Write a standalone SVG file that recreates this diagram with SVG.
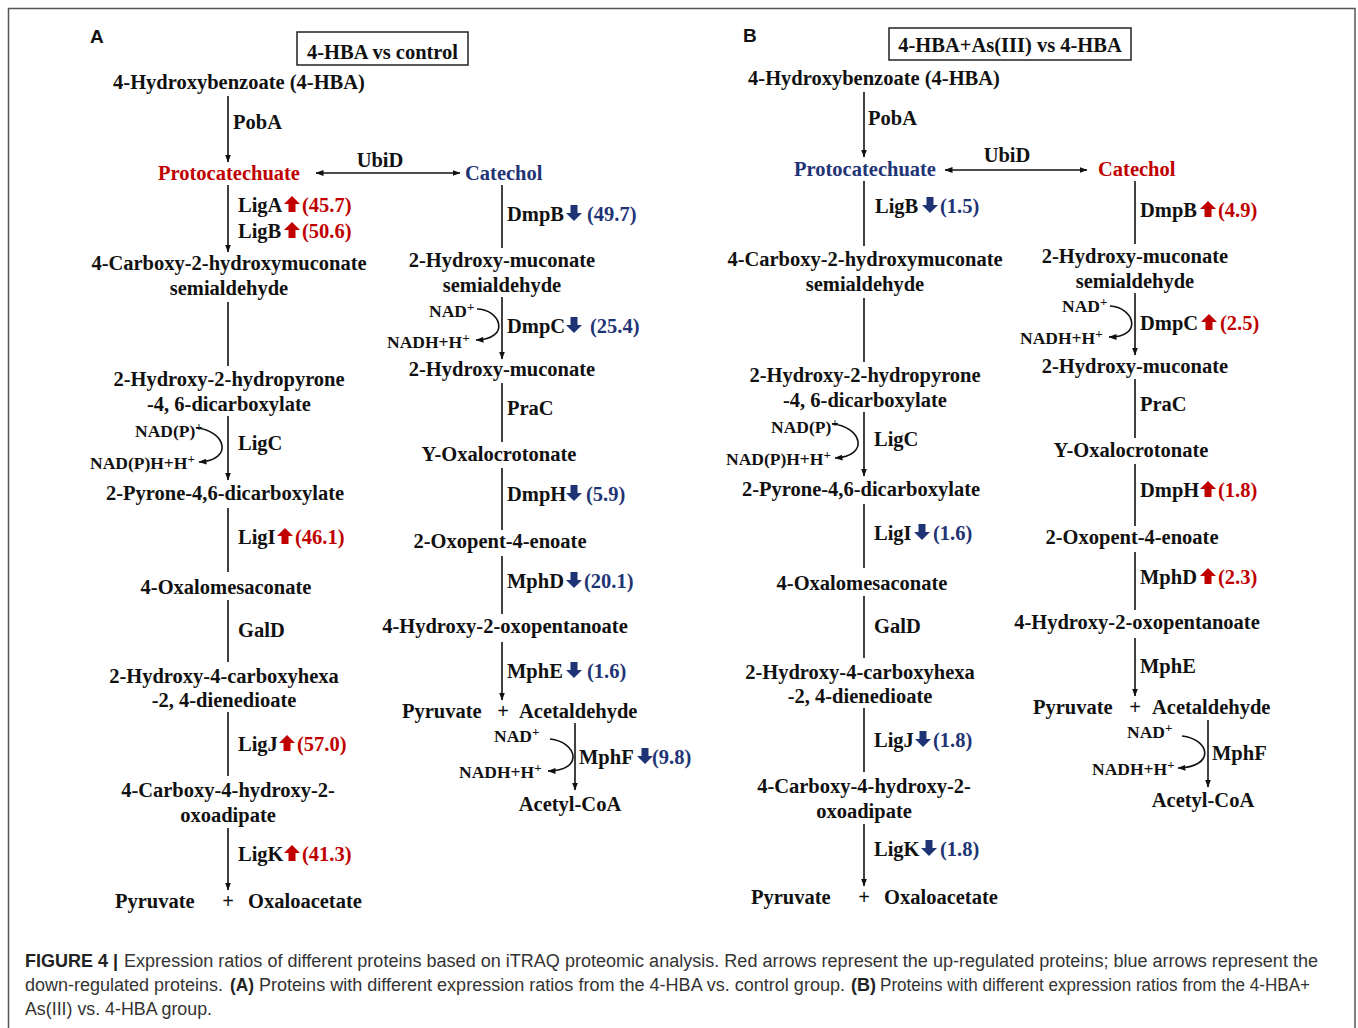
<svg xmlns="http://www.w3.org/2000/svg" xmlns:xlink="http://www.w3.org/1999/xlink" width="1358" height="1028" viewBox="0 0 1358 1028">
<style>
.t{font-family:"Liberation Serif","Times New Roman",serif;font-weight:bold;font-size:20.5px;fill:#111}
.c{text-anchor:middle}
.r{fill:#c00000}
.b{fill:#1f3475}
.co{font-size:17.5px}
.sup{font-size:13px}
.ln{stroke:#111;stroke-width:1.6;fill:none}
.bx{stroke:#222;stroke-width:1.5;fill:none}
.lbl{font-family:"Liberation Sans",Arial,sans-serif;font-weight:bold;font-size:19px;fill:#111}
.cap{font-family:"Liberation Sans",Arial,sans-serif;font-size:18px;fill:#333}
.capb{font-weight:bold;fill:#222}
</style>
<defs>
<marker id="ah" viewBox="0 0 8 6" refX="7.5" refY="3" markerWidth="8" markerHeight="6" markerUnits="userSpaceOnUse" orient="auto-start-reverse"><path d="M0,0L8,3L0,6z" fill="#111"/></marker>
<path id="up" d="M0,-8L8,0L3.5,0L3.5,8L-3.5,8L-3.5,0L-8,0Z"/>
<path id="dn" d="M0,8L8,0L3.5,0L3.5,-8L-3.5,-8L-3.5,0L-8,0Z"/>
</defs>
<rect x="0" y="0" width="1358" height="1028" fill="#fff"/>
<rect x="8.5" y="8.5" width="1346.5" height="1040" fill="none" stroke="#555" stroke-width="1.5"/>

<!-- Panel labels and titles -->
<text class="lbl" x="90" y="43">A</text>
<text class="lbl" x="743" y="42">B</text>
<g id="titleA"><rect class="bx" x="297" y="32" width="171" height="33"/><text class="t c" x="382.5" y="59">4-HBA vs control</text></g>
<g id="titleB"><rect class="bx" x="889" y="28" width="242" height="32"/><text class="t c" x="1010" y="52">4-HBA+As(III) vs 4-HBA</text></g>

<!-- ============ Connectors ============ -->
<g id="connectors" class="ln">
<!-- A main -->
<line x1="228" y1="96" x2="228" y2="162" marker-end="url(#ah)"/>
<line x1="316" y1="173" x2="460" y2="173" marker-start="url(#ah)" marker-end="url(#ah)"/>
<line x1="228" y1="185" x2="228" y2="252" marker-end="url(#ah)"/>
<line x1="228" y1="302" x2="228" y2="366"/>
<line x1="228" y1="416" x2="228" y2="480" marker-end="url(#ah)"/>
<line x1="228" y1="508" x2="228" y2="572"/>
<line x1="228" y1="600" x2="228" y2="662"/>
<line x1="228" y1="712" x2="228" y2="776"/>
<line x1="228" y1="828" x2="228" y2="890" marker-end="url(#ah)"/>
<path d="M196,428 C225,430 235,460 199,462" marker-end="url(#ah)"/>
<!-- A catechol -->
<line x1="502" y1="185" x2="502" y2="248"/>
<line x1="502" y1="297" x2="502" y2="359" marker-end="url(#ah)"/>
<path d="M477,309 C500,309 512,339 476,340" marker-end="url(#ah)"/>
<line x1="502" y1="383" x2="502" y2="442"/>
<line x1="502" y1="468" x2="502" y2="530"/>
<line x1="502" y1="556" x2="502" y2="614"/>
<line x1="502" y1="642" x2="502" y2="700" marker-end="url(#ah)"/>
<line x1="575" y1="723" x2="575" y2="790" marker-end="url(#ah)"/>
<path d="M550,739 C578,742 584,771 548,771" marker-end="url(#ah)"/>
<!-- B main -->
<line x1="864" y1="92" x2="864" y2="157" marker-end="url(#ah)"/>
<line x1="945" y1="170" x2="1087" y2="170" marker-start="url(#ah)" marker-end="url(#ah)"/>
<line x1="864" y1="181" x2="864" y2="246"/>
<line x1="864" y1="298" x2="864" y2="362"/>
<line x1="864" y1="412" x2="864" y2="476" marker-end="url(#ah)"/>
<line x1="864" y1="504" x2="864" y2="568"/>
<line x1="864" y1="596" x2="864" y2="658"/>
<line x1="864" y1="708" x2="864" y2="772"/>
<line x1="864" y1="824" x2="864" y2="886" marker-end="url(#ah)"/>
<path d="M832,424 C861,426 871,456 835,458" marker-end="url(#ah)"/>
<!-- B catechol -->
<line x1="1135" y1="181" x2="1135" y2="244"/>
<line x1="1135" y1="293" x2="1135" y2="355" marker-end="url(#ah)"/>
<path d="M1110,306 C1134,307 1144,337 1109,337" marker-end="url(#ah)"/>
<line x1="1135" y1="379" x2="1135" y2="438"/>
<line x1="1135" y1="464" x2="1135" y2="526"/>
<line x1="1135" y1="552" x2="1135" y2="610"/>
<line x1="1135" y1="638" x2="1135" y2="696" marker-end="url(#ah)"/>
<line x1="1208" y1="720" x2="1208" y2="787" marker-end="url(#ah)"/>
<path d="M1182,736 C1210,739 1216,767 1178,768" marker-end="url(#ah)"/>
</g>

<!-- ============ Panel A nodes ============ -->
<g id="A-hba"><text class="t c" x="239" y="89">4-Hydroxybenzoate (4-HBA)</text></g>
<g id="A-pobA"><text class="t" x="233" y="129">PobA</text></g>
<g id="A-proto"><text class="t c r" x="229" y="180">Protocatechuate</text></g>
<g id="A-ubiD"><text class="t c" x="380" y="167">UbiD</text></g>
<g id="A-catechol"><text class="t b" x="465" y="180">Catechol</text></g>
<g id="A-ligA"><text class="t" x="238" y="212">LigA</text><use href="#up" x="292" y="204" class="r"/><text class="t r" x="302" y="212">(45.7)</text></g>
<g id="A-ligB"><text class="t" x="238" y="238">LigB</text><use href="#up" x="292" y="230" class="r"/><text class="t r" x="302" y="238">(50.6)</text></g>
<g id="A-chms"><text class="t c" x="229" y="270">4-Carboxy-2-hydroxymuconate</text><text class="t c" x="229" y="295">semialdehyde</text></g>
<g id="A-hhpd"><text class="t c" x="229" y="386">2-Hydroxy-2-hydropyrone</text><text class="t c" x="229" y="411">-4, 6-dicarboxylate</text></g>
<g id="A-ligC"><text class="t" x="238" y="450">LigC</text>
<text class="t co" x="135" y="437">NAD(P)<tspan class="sup" dy="-6">+</tspan></text>
<text class="t co" x="90" y="469">NAD(P)H+H<tspan class="sup" dy="-6">+</tspan></text></g>
<g id="A-pdc"><text class="t c" x="225" y="500">2-Pyrone-4,6-dicarboxylate</text></g>
<g id="A-ligI"><text class="t" x="238" y="544">LigI</text><use href="#up" x="285" y="536" class="r"/><text class="t r" x="295" y="544">(46.1)</text></g>
<g id="A-oma"><text class="t c" x="226" y="594">4-Oxalomesaconate</text></g>
<g id="A-galD"><text class="t" x="238" y="637">GalD</text></g>
<g id="A-chmd"><text class="t c" x="224" y="683">2-Hydroxy-4-carboxyhexa</text><text class="t c" x="224" y="707">-2, 4-dienedioate</text></g>
<g id="A-ligJ"><text class="t" x="238" y="751">LigJ</text><use href="#up" x="287" y="743" class="r"/><text class="t r" x="297" y="751">(57.0)</text></g>
<g id="A-cha"><text class="t c" x="228" y="797">4-Carboxy-4-hydroxy-2-</text><text class="t c" x="228" y="822">oxoadipate</text></g>
<g id="A-ligK"><text class="t" x="238" y="861">LigK</text><use href="#up" x="292" y="853" class="r"/><text class="t r" x="302" y="861">(41.3)</text></g>
<g id="A-end"><text class="t" x="115" y="908">Pyruvate</text><text class="t c" x="228" y="908">+</text><text class="t" x="248" y="908">Oxaloacetate</text></g>

<g id="A-dmpB"><text class="t" x="507" y="221">DmpB</text><use href="#dn" x="574" y="213" class="b"/><text class="t b" x="587" y="221">(49.7)</text></g>
<g id="A-hms"><text class="t c" x="502" y="267">2-Hydroxy-muconate</text><text class="t c" x="502" y="292">semialdehyde</text></g>
<g id="A-dmpC"><text class="t" x="507" y="333">DmpC</text><use href="#dn" x="574" y="325" class="b"/><text class="t b" x="590" y="333">(25.4)</text>
<text class="t co" x="429" y="317">NAD<tspan class="sup" dy="-6">+</tspan></text>
<text class="t co" x="387" y="348">NADH+H<tspan class="sup" dy="-6">+</tspan></text></g>
<g id="A-hm"><text class="t c" x="502" y="376">2-Hydroxy-muconate</text></g>
<g id="A-praC"><text class="t" x="507" y="415">PraC</text></g>
<g id="A-oxc"><text class="t c" x="499" y="461">Y-Oxalocrotonate</text></g>
<g id="A-dmpH"><text class="t" x="507" y="501">DmpH</text><use href="#dn" x="574" y="493" class="b"/><text class="t b" x="586" y="501">(5.9)</text></g>
<g id="A-ope"><text class="t c" x="500" y="548">2-Oxopent-4-enoate</text></g>
<g id="A-mphD"><text class="t" x="507" y="588">MphD</text><use href="#dn" x="574" y="580" class="b"/><text class="t b" x="584" y="588">(20.1)</text></g>
<g id="A-hop"><text class="t c" x="505" y="633">4-Hydroxy-2-oxopentanoate</text></g>
<g id="A-mphE"><text class="t" x="507" y="678">MphE</text><use href="#dn" x="574" y="670" class="b"/><text class="t b" x="587" y="678">(1.6)</text></g>
<g id="A-pa"><text class="t" x="402" y="718">Pyruvate</text><text class="t c" x="503" y="718">+</text><text class="t" x="519" y="718">Acetaldehyde</text></g>
<g id="A-mphF"><text class="t" x="579" y="764">MphF</text><use href="#dn" x="645" y="756" class="b"/><text class="t b" x="652" y="764">(9.8)</text>
<text class="t co" x="494" y="742">NAD<tspan class="sup" dy="-6">+</tspan></text>
<text class="t co" x="459" y="778">NADH+H<tspan class="sup" dy="-6">+</tspan></text></g>
<g id="A-acoa"><text class="t c" x="570" y="811">Acetyl-CoA</text></g>

<!-- ============ Panel B nodes ============ -->
<g id="B-hba"><text class="t c" x="874" y="85">4-Hydroxybenzoate (4-HBA)</text></g>
<g id="B-pobA"><text class="t" x="868" y="125">PobA</text></g>
<g id="B-proto"><text class="t c b" x="865" y="176">Protocatechuate</text></g>
<g id="B-ubiD"><text class="t c" x="1007" y="162">UbiD</text></g>
<g id="B-catechol"><text class="t r" x="1098" y="176">Catechol</text></g>
<g id="B-ligB"><text class="t" x="875" y="213">LigB</text><use href="#dn" x="930" y="205" class="b"/><text class="t b" x="940" y="213">(1.5)</text></g>
<g id="B-chms"><text class="t c" x="865" y="266">4-Carboxy-2-hydroxymuconate</text><text class="t c" x="865" y="291">semialdehyde</text></g>
<g id="B-hhpd"><text class="t c" x="865" y="382">2-Hydroxy-2-hydropyrone</text><text class="t c" x="865" y="407">-4, 6-dicarboxylate</text></g>
<g id="B-ligC"><text class="t" x="874" y="446">LigC</text>
<text class="t co" x="771" y="433">NAD(P)<tspan class="sup" dy="-6">+</tspan></text>
<text class="t co" x="726" y="465">NAD(P)H+H<tspan class="sup" dy="-6">+</tspan></text></g>
<g id="B-pdc"><text class="t c" x="861" y="496">2-Pyrone-4,6-dicarboxylate</text></g>
<g id="B-ligI"><text class="t" x="874" y="540">LigI</text><use href="#dn" x="922" y="532" class="b"/><text class="t b" x="933" y="540">(1.6)</text></g>
<g id="B-oma"><text class="t c" x="862" y="590">4-Oxalomesaconate</text></g>
<g id="B-galD"><text class="t" x="874" y="633">GalD</text></g>
<g id="B-chmd"><text class="t c" x="860" y="679">2-Hydroxy-4-carboxyhexa</text><text class="t c" x="860" y="703">-2, 4-dienedioate</text></g>
<g id="B-ligJ"><text class="t" x="874" y="747">LigJ</text><use href="#dn" x="923" y="739" class="b"/><text class="t b" x="933" y="747">(1.8)</text></g>
<g id="B-cha"><text class="t c" x="864" y="793">4-Carboxy-4-hydroxy-2-</text><text class="t c" x="864" y="818">oxoadipate</text></g>
<g id="B-ligK"><text class="t" x="874" y="856">LigK</text><use href="#dn" x="929" y="848" class="b"/><text class="t b" x="940" y="856">(1.8)</text></g>
<g id="B-end"><text class="t" x="751" y="904">Pyruvate</text><text class="t c" x="864" y="904">+</text><text class="t" x="884" y="904">Oxaloacetate</text></g>

<g id="B-dmpB"><text class="t" x="1140" y="217">DmpB</text><use href="#up" x="1208" y="209" class="r"/><text class="t r" x="1218" y="217">(4.9)</text></g>
<g id="B-hms"><text class="t c" x="1135" y="263">2-Hydroxy-muconate</text><text class="t c" x="1135" y="288">semialdehyde</text></g>
<g id="B-dmpC"><text class="t" x="1140" y="330">DmpC</text><use href="#up" x="1209" y="322" class="r"/><text class="t r" x="1220" y="330">(2.5)</text>
<text class="t co" x="1062" y="312">NAD<tspan class="sup" dy="-6">+</tspan></text>
<text class="t co" x="1020" y="344">NADH+H<tspan class="sup" dy="-6">+</tspan></text></g>
<g id="B-hm"><text class="t c" x="1135" y="373">2-Hydroxy-muconate</text></g>
<g id="B-praC"><text class="t" x="1140" y="411">PraC</text></g>
<g id="B-oxc"><text class="t c" x="1131" y="457">Y-Oxalocrotonate</text></g>
<g id="B-dmpH"><text class="t" x="1140" y="497">DmpH</text><use href="#up" x="1208" y="489" class="r"/><text class="t r" x="1218" y="497">(1.8)</text></g>
<g id="B-ope"><text class="t c" x="1132" y="544">2-Oxopent-4-enoate</text></g>
<g id="B-mphD"><text class="t" x="1140" y="584">MphD</text><use href="#up" x="1208" y="576" class="r"/><text class="t r" x="1218" y="584">(2.3)</text></g>
<g id="B-hop"><text class="t c" x="1137" y="629">4-Hydroxy-2-oxopentanoate</text></g>
<g id="B-mphE"><text class="t" x="1140" y="673">MphE</text></g>
<g id="B-pa"><text class="t" x="1033" y="714">Pyruvate</text><text class="t c" x="1135" y="714">+</text><text class="t" x="1152" y="714">Acetaldehyde</text></g>
<g id="B-mphF"><text class="t" x="1212" y="760">MphF</text>
<text class="t co" x="1127" y="738">NAD<tspan class="sup" dy="-6">+</tspan></text>
<text class="t co" x="1092" y="775">NADH+H<tspan class="sup" dy="-6">+</tspan></text></g>
<g id="B-acoa"><text class="t c" x="1203" y="807">Acetyl-CoA</text></g>

<!-- Caption -->
<g id="caption" class="cap">
<text class="capb" x="25" y="967" textLength="93" lengthAdjust="spacingAndGlyphs">FIGURE 4 |</text>
<text x="124" y="967" textLength="1194" lengthAdjust="spacingAndGlyphs">Expression ratios of different proteins based on iTRAQ proteomic analysis. Red arrows represent the up-regulated proteins; blue arrows represent the</text>
<text x="25" y="991" textLength="198" lengthAdjust="spacingAndGlyphs">down-regulated proteins.</text>
<text class="capb" x="230" y="991" textLength="24" lengthAdjust="spacingAndGlyphs">(A)</text>
<text x="259" y="991" textLength="586" lengthAdjust="spacingAndGlyphs">Proteins with different expression ratios from the 4-HBA vs. control group.</text>
<text class="capb" x="851" y="991" textLength="25" lengthAdjust="spacingAndGlyphs">(B)</text>
<text x="880" y="991" textLength="430" lengthAdjust="spacingAndGlyphs">Proteins with different expression ratios from the 4-HBA+</text>
<text x="25" y="1015" textLength="187" lengthAdjust="spacingAndGlyphs">As(III) vs. 4-HBA group.</text>
</g>
</svg>
